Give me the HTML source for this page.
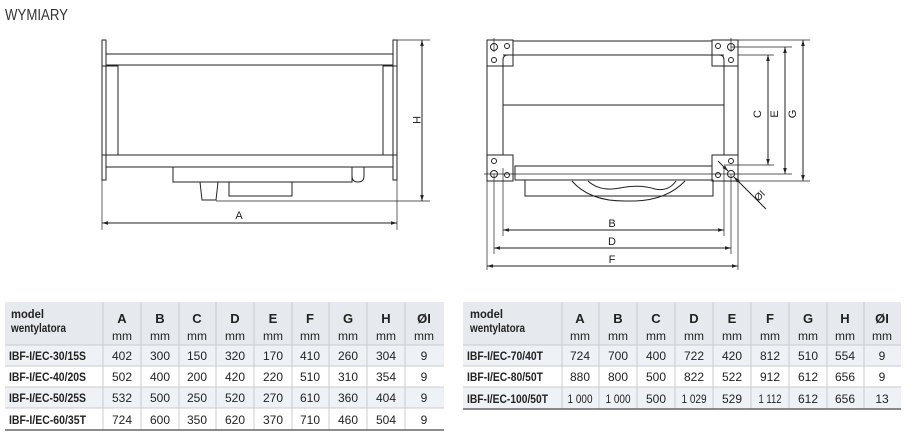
<!DOCTYPE html>
<html><head><meta charset="utf-8"><style>
html,body{margin:0;padding:0;background:#fff;width:922px;height:442px;overflow:hidden}
svg{display:block}
text{font-family:"Liberation Sans Narrow","Liberation Sans",sans-serif;fill:#222}
.l{fill:none;stroke:#222;stroke-width:1}
.t{stroke:#222;stroke-width:0.7;fill:none}
.h{font-weight:bold;font-size:13px}
.m{font-size:12px;fill:#444}
.c{font-size:12px;text-anchor:middle}
.mod{font-weight:bold;font-size:12px}
</style></head><body>
<svg width="922" height="442" viewBox="0 0 922 442">
<defs>
<marker id="a" viewBox="0 0 10 10" refX="10" refY="5" markerWidth="9" markerHeight="6" orient="auto-start-reverse"><path d="M0,2 L10,5 L0,8z" fill="#222"/></marker>
</defs>
<text x="5" y="20" style="font-size:16px;fill:#333" textLength="63" lengthAdjust="spacingAndGlyphs">WYMIARY</text>

<!-- Left drawing -->
<g class="l">
<rect x="102" y="40" width="4" height="140"/>
<rect x="393" y="40" width="4" height="140"/>
<line x1="106" y1="54" x2="393" y2="54"/>
<line x1="106" y1="65" x2="393" y2="65"/>
<rect x="102" y="66" width="16" height="89"/>
<rect x="383" y="66" width="14" height="89"/>
<line x1="106" y1="155" x2="393" y2="155"/>
<line x1="106" y1="167" x2="393" y2="167"/>
<rect x="173" y="167" width="179" height="15"/>
<path d="M352,167 L364,167 L364,176 Q364,182 358,182 Q352,182 352,176"/>
<path d="M200,182 L202,200 L216,200 L218,182"/>
<rect x="229" y="182" width="63" height="14"/>
<line class="t" x1="216" y1="201" x2="430" y2="201"/>
<line class="t" x1="397" y1="40" x2="430" y2="40"/>
<line class="t" x1="102" y1="180" x2="102" y2="230"/>
<line class="t" x1="397" y1="180" x2="397" y2="230"/>
<line x1="422" y1="40" x2="422" y2="201" marker-start="url(#a)" marker-end="url(#a)"/>
<line x1="102" y1="223" x2="397" y2="223" marker-start="url(#a)" marker-end="url(#a)"/>
</g>
<text x="239" y="219" class="c" style="font-size:11px">A</text>
<text x="0" y="0" class="c" style="font-size:11px" transform="translate(413,120) rotate(90)">H</text>

<!-- Right drawing -->
<g class="l">
<rect x="487" y="40" width="26" height="26"/>
<rect x="712" y="40" width="26" height="26"/>
<rect x="487" y="155" width="26" height="26"/>
<rect x="712" y="155" width="26" height="26"/>
<rect x="513" y="41" width="199" height="14"/>
<rect x="515" y="166" width="197" height="14"/>
<rect x="487" y="66" width="16" height="89"/>
<rect x="724" y="66" width="14" height="89"/>
<line x1="503" y1="55" x2="724" y2="55"/>
<line x1="503" y1="105" x2="724" y2="105"/>
<path d="M503,66 L503,60 Q503,55 508,55 L513,55"/>
<path d="M724,66 L724,60 Q724,55 719,55 L712,55"/>
<circle cx="494" cy="47" r="3.5"/><circle cx="507" cy="46" r="2.5"/><circle cx="494" cy="60" r="2.5"/>
<circle cx="731" cy="47" r="3.5"/><circle cx="718" cy="46" r="2.5"/><circle cx="731" cy="60" r="2.5"/>
<circle cx="494" cy="174" r="3.5"/><circle cx="507" cy="175" r="2.5"/><circle cx="494" cy="161" r="2.5"/>
<circle cx="731" cy="174" r="3.5"/><circle cx="718" cy="175" r="2.5"/><circle cx="731" cy="161" r="2.5"/>
<rect x="525" y="180" width="188" height="16"/>
<path d="M572,181 Q590,202 628,201 Q665,202 685,181"/>
<path d="M588,181 Q600,192 620,188 Q640,184 655,189 Q668,192 676,181"/>
<line class="t" x1="738" y1="40" x2="810" y2="40"/>
<line class="t" x1="731" y1="47" x2="792" y2="47"/>
<line class="t" x1="738" y1="55" x2="774" y2="55"/>
<line class="t" x1="724" y1="165" x2="774" y2="165"/>
<line class="t" x1="484" y1="174" x2="792" y2="174"/>
<line class="t" x1="738" y1="181" x2="810" y2="181"/>
<line class="t" x1="503" y1="168" x2="503" y2="236"/>
<line class="t" x1="724" y1="168" x2="724" y2="236"/>
<line class="t" x1="494" y1="174" x2="494" y2="254"/>
<line class="t" x1="731" y1="174" x2="731" y2="254"/>
<line class="t" x1="487" y1="181" x2="487" y2="270"/>
<line class="t" x1="738" y1="181" x2="738" y2="270"/>
<line class="t" x1="494" y1="38" x2="494" y2="52"/><line class="t" x1="731" y1="38" x2="731" y2="52"/>
<line x1="768" y1="55" x2="768" y2="165" marker-start="url(#a)" marker-end="url(#a)"/>
<line x1="785" y1="47" x2="785" y2="174" marker-start="url(#a)" marker-end="url(#a)"/>
<line x1="803" y1="40" x2="803" y2="181" marker-start="url(#a)" marker-end="url(#a)"/>
<line x1="503" y1="230" x2="724" y2="230" marker-start="url(#a)" marker-end="url(#a)"/>
<line x1="494" y1="248" x2="731" y2="248" marker-start="url(#a)" marker-end="url(#a)"/>
<line x1="487" y1="266" x2="738" y2="266" marker-start="url(#a)" marker-end="url(#a)"/>
<line x1="718" y1="161" x2="728" y2="171" marker-end="url(#a)"/>
<line x1="766" y1="209" x2="734" y2="177" marker-end="url(#a)"/>
</g>
<text x="612" y="227" class="c" style="font-size:11px">B</text>
<text x="612" y="245" class="c" style="font-size:11px">D</text>
<text x="612" y="263" class="c" style="font-size:11px">F</text>
<text class="c" style="font-size:11px" transform="translate(761,114) rotate(-90)">C</text>
<text class="c" style="font-size:11px" transform="translate(778,114) rotate(-90)">E</text>
<text class="c" style="font-size:11px" transform="translate(796,114) rotate(-90)">G</text>
<text class="c" style="font-size:10px" transform="translate(762,198) rotate(-45)">ØI</text>

<!-- Left table -->
<rect x="5" y="302" width="439" height="43" fill="#e6e9ed"/>
<rect x="5" y="345" width="439" height="21" fill="#eef2f6"/>
<rect x="5" y="387" width="439" height="21" fill="#eef2f6"/>
<g stroke="#c8ccd0" stroke-width="1">
<line x1="5" y1="345" x2="444" y2="345"/><line x1="5" y1="366" x2="444" y2="366"/><line x1="5" y1="387" x2="444" y2="387"/><line x1="5" y1="408" x2="444" y2="408"/>
<line x1="103" y1="302" x2="103" y2="430"/><line x1="141" y1="302" x2="141" y2="430"/><line x1="179" y1="302" x2="179" y2="430"/><line x1="216" y1="302" x2="216" y2="430"/><line x1="254" y1="302" x2="254" y2="430"/><line x1="292" y1="302" x2="292" y2="430"/><line x1="329" y1="302" x2="329" y2="430"/><line x1="367" y1="302" x2="367" y2="430"/><line x1="405" y1="302" x2="405" y2="430"/>
</g>
<line x1="5" y1="430" x2="444" y2="430" stroke="#666" stroke-width="1.5"/>
<text x="11" y="318" class="mod" textLength="33" lengthAdjust="spacingAndGlyphs">model</text><text x="11" y="332" class="mod" textLength="55" lengthAdjust="spacingAndGlyphs">wentylatora</text>
<g class="h" text-anchor="middle">
<text x="122" y="323">A</text><text x="160" y="323">B</text><text x="197" y="323">C</text><text x="235" y="323">D</text><text x="273" y="323">E</text><text x="310" y="323">F</text><text x="348" y="323">G</text><text x="386" y="323">H</text><text x="424" y="323">ØI</text>
</g>
<g class="m" text-anchor="middle">
<text x="122" y="340">mm</text><text x="160" y="340">mm</text><text x="197" y="340">mm</text><text x="235" y="340">mm</text><text x="273" y="340">mm</text><text x="310" y="340">mm</text><text x="348" y="340">mm</text><text x="386" y="340">mm</text><text x="424" y="340">mm</text>
</g>
<g>
<text x="9" y="360" class="mod" textLength="77" lengthAdjust="spacingAndGlyphs">IBF-I/EC-30/15S</text>
<text x="9" y="381" class="mod" textLength="77" lengthAdjust="spacingAndGlyphs">IBF-I/EC-40/20S</text>
<text x="9" y="402" class="mod" textLength="77" lengthAdjust="spacingAndGlyphs">IBF-I/EC-50/25S</text>
<text x="9" y="424" class="mod" textLength="77" lengthAdjust="spacingAndGlyphs">IBF-I/EC-60/35T</text>
</g>
<g class="c">
<text x="122" y="360">402</text><text x="160" y="360">300</text><text x="197" y="360">150</text><text x="235" y="360">320</text><text x="273" y="360">170</text><text x="310" y="360">410</text><text x="348" y="360">260</text><text x="386" y="360">304</text><text x="424" y="360">9</text>
<text x="122" y="381">502</text><text x="160" y="381">400</text><text x="197" y="381">200</text><text x="235" y="381">420</text><text x="273" y="381">220</text><text x="310" y="381">510</text><text x="348" y="381">310</text><text x="386" y="381">354</text><text x="424" y="381">9</text>
<text x="122" y="402">532</text><text x="160" y="402">500</text><text x="197" y="402">250</text><text x="235" y="402">520</text><text x="273" y="402">270</text><text x="310" y="402">610</text><text x="348" y="402">360</text><text x="386" y="402">404</text><text x="424" y="402">9</text>
<text x="122" y="424">724</text><text x="160" y="424">600</text><text x="197" y="424">350</text><text x="235" y="424">620</text><text x="273" y="424">370</text><text x="310" y="424">710</text><text x="348" y="424">460</text><text x="386" y="424">504</text><text x="424" y="424">9</text>
</g>

<!-- Right table -->
<rect x="463" y="302" width="438" height="43" fill="#e6e9ed"/>
<rect x="463" y="345" width="438" height="21" fill="#eef2f6"/>
<rect x="463" y="387" width="438" height="22" fill="#eef2f6"/>
<g stroke="#c8ccd0" stroke-width="1">
<line x1="463" y1="345" x2="901" y2="345"/><line x1="463" y1="366" x2="901" y2="366"/><line x1="463" y1="387" x2="901" y2="387"/>
<line x1="562" y1="302" x2="562" y2="409"/><line x1="599" y1="302" x2="599" y2="409"/><line x1="637" y1="302" x2="637" y2="409"/><line x1="675" y1="302" x2="675" y2="409"/><line x1="713" y1="302" x2="713" y2="409"/><line x1="751" y1="302" x2="751" y2="409"/><line x1="789" y1="302" x2="789" y2="409"/><line x1="827" y1="302" x2="827" y2="409"/><line x1="864" y1="302" x2="864" y2="409"/>
</g>
<line x1="463" y1="409" x2="901" y2="409" stroke="#666" stroke-width="1.5"/>
<text x="470" y="318" class="mod" textLength="33" lengthAdjust="spacingAndGlyphs">model</text><text x="470" y="332" class="mod" textLength="55" lengthAdjust="spacingAndGlyphs">wentylatora</text>
<g class="h" text-anchor="middle">
<text x="580" y="323">A</text><text x="618" y="323">B</text><text x="656" y="323">C</text><text x="694" y="323">D</text><text x="732" y="323">E</text><text x="770" y="323">F</text><text x="808" y="323">G</text><text x="845" y="323">H</text><text x="882" y="323">ØI</text>
</g>
<g class="m" text-anchor="middle">
<text x="580" y="340">mm</text><text x="618" y="340">mm</text><text x="656" y="340">mm</text><text x="694" y="340">mm</text><text x="732" y="340">mm</text><text x="770" y="340">mm</text><text x="808" y="340">mm</text><text x="845" y="340">mm</text><text x="882" y="340">mm</text>
</g>
<text x="467" y="360" class="mod" textLength="76" lengthAdjust="spacingAndGlyphs">IBF-I/EC-70/40T</text>
<text x="467" y="381" class="mod" textLength="76" lengthAdjust="spacingAndGlyphs">IBF-I/EC-80/50T</text>
<text x="467" y="403" class="mod" textLength="81" lengthAdjust="spacingAndGlyphs">IBF-I/EC-100/50T</text>
<g class="c">
<text x="580" y="360">724</text><text x="618" y="360">700</text><text x="656" y="360">400</text><text x="694" y="360">722</text><text x="732" y="360">420</text><text x="770" y="360">812</text><text x="808" y="360">510</text><text x="845" y="360">554</text><text x="882" y="360">9</text>
<text x="580" y="381">880</text><text x="618" y="381">800</text><text x="656" y="381">500</text><text x="694" y="381">822</text><text x="732" y="381">522</text><text x="770" y="381">912</text><text x="808" y="381">612</text><text x="845" y="381">656</text><text x="882" y="381">9</text>
<text x="580" y="403" textLength="25" lengthAdjust="spacingAndGlyphs">1 000</text><text x="618" y="403" textLength="25" lengthAdjust="spacingAndGlyphs">1 000</text><text x="656" y="403">500</text><text x="694" y="403" textLength="25" lengthAdjust="spacingAndGlyphs">1 029</text><text x="732" y="403">529</text><text x="770" y="403" textLength="23" lengthAdjust="spacingAndGlyphs">1 112</text><text x="808" y="403">612</text><text x="845" y="403">656</text><text x="882" y="403">13</text>
</g>
</svg>
</body></html>
